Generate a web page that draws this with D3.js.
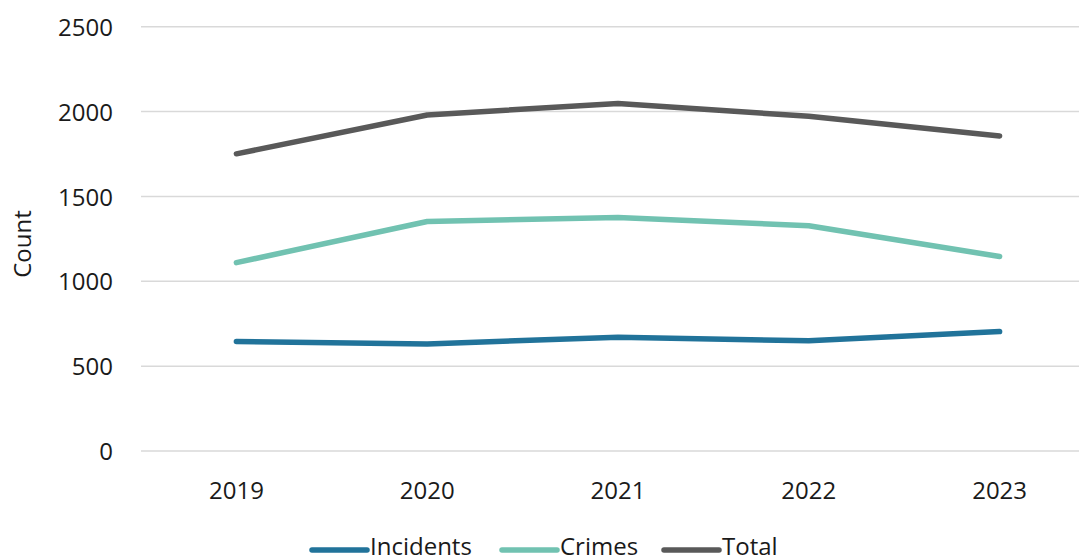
<!DOCTYPE html>
<html><head><meta charset="utf-8">
<script src="https://cdn.jsdelivr.net/npm/d3@7"></script>
<style>
html,body{margin:0;padding:0;background:#fff;}
svg{display:block;font-family:"Open Sans",sans-serif;}
</style></head>
<body>
<svg id="chart" width="1079" height="560"></svg>
<script>
const years = ["2019","2020","2021","2022","2023"];
const incidents = [645, 631, 670, 649, 704];
const crimes = [1110, 1352, 1376, 1327, 1146];
const total = [1751, 1980, 2048, 1972, 1856];
const yTicks = [0, 500, 1000, 1500, 2000, 2500];
const seriesNames = ["Incidents", "Crimes", "Total"];
const seriesColors = ["#21739a", "#71c2b1", "#595959"];

const svg = d3.select("#chart");
const x = d3.scaleBand().domain(years).range([141, 1095]);
const y = d3.scaleLinear().domain([0, 2500]).range([451, 26.7]);

// gridlines
svg.append("g").selectAll("line").data(yTicks).join("line")
  .attr("x1", 141).attr("x2", 1095)
  .attr("y1", d => y(d)).attr("y2", d => y(d))
  .attr("stroke", "#d9d9d9").attr("stroke-width", 1.5);

// y axis
const yAxis = svg.append("g").attr("transform", "translate(113,0)")
  .call(d3.axisLeft(y).tickValues(yTicks).tickSize(0).tickPadding(0).tickFormat(d3.format("d")));
yAxis.select(".domain").remove();
yAxis.selectAll("text").attr("font-size", 24).attr("fill", "#1a1a1a")
  .attr("font-family", "Open Sans, sans-serif").attr("dy", "0.36em");

// x axis
const xAxis = svg.append("g").attr("transform", "translate(0,451)")
  .call(d3.axisBottom(x).tickSize(0).tickPadding(0));
xAxis.select(".domain").remove();
xAxis.selectAll("text").attr("font-size", 24).attr("fill", "#1a1a1a")
  .attr("font-family", "Open Sans, sans-serif").attr("dy", null).attr("y", 48);

// y label
svg.append("text").attr("transform", "translate(31,244) rotate(-90)")
  .attr("text-anchor", "middle").attr("font-size", 24).attr("fill", "#1a1a1a")
  .text("Count");

const data = [incidents, crimes, total];
const line = d3.line().x((d, i) => x(years[i]) + x.bandwidth() / 2).y(d => y(d));
svg.append("g").selectAll("path").data(data).join("path")
  .attr("d", d => line(d)).attr("fill", "none")
  .attr("stroke", (d, i) => seriesColors[i]).attr("stroke-width", 5.5)
  .attr("stroke-linecap", "round").attr("stroke-linejoin", "round");

// legend
const legendX = [312, 502, 664];
const lg = svg.append("g").selectAll("g").data(seriesNames).join("g")
  .attr("transform", (d, i) => `translate(${legendX[i]},550)`);
lg.append("line").attr("x1", 0).attr("x2", 55).attr("y1", 0).attr("y2", 0)
  .attr("stroke", (d, i) => seriesColors[i]).attr("stroke-width", 5.5).attr("stroke-linecap", "round");
lg.append("text").attr("x", 58).attr("y", 5).attr("font-size", 24).attr("fill", "#1a1a1a")
  .text(d => d);
</script>
</body></html>
